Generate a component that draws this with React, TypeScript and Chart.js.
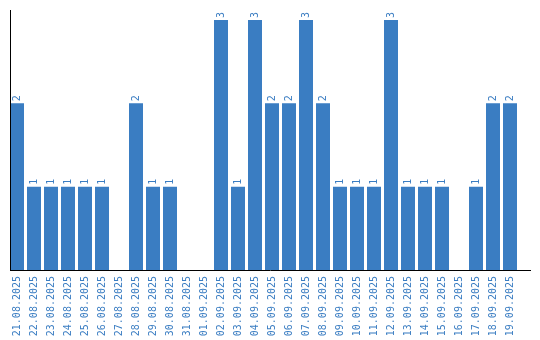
import React, { useEffect, useRef } from "react";
import { Chart, registerables } from "chart.js";

Chart.register(...registerables);

const dates = [
  "21.08.2025", "22.08.2025", "23.08.2025", "24.08.2025", "25.08.2025", "26.08.2025",
  "27.08.2025", "28.08.2025", "29.08.2025", "30.08.2025", "31.08.2025", "01.09.2025",
  "02.09.2025", "03.09.2025", "04.09.2025", "05.09.2025", "06.09.2025", "07.09.2025",
  "08.09.2025", "09.09.2025", "10.09.2025", "11.09.2025", "12.09.2025", "13.09.2025",
  "14.09.2025", "15.09.2025", "16.09.2025", "17.09.2025", "18.09.2025", "19.09.2025",
];
const counts = [2, 1, 1, 1, 1, 1, 0, 2, 1, 1, 0, 0, 3, 1, 3, 2, 2, 3, 2, 1, 1, 1, 3, 1, 1, 1, 0, 1, 2, 2];

const BLUE = "#3a7dc2";
const FONT = "'DejaVu Sans Mono', monospace";

const valueLabels = {
  id: "valueLabels",
  afterDatasetsDraw(chart: any) {
    const ctx = chart.ctx;
    const meta = chart.getDatasetMeta(0);
    ctx.save();
    ctx.fillStyle = BLUE;
    ctx.font = `10px ${FONT}`;
    ctx.textAlign = "left";
    ctx.textBaseline = "middle";
    meta.data.forEach((bar: any, i: number) => {
      const v = counts[i];
      if (!v) return;
      ctx.save();
      ctx.translate(bar.x, bar.y - 2);
      ctx.rotate(-Math.PI / 2);
      ctx.fillText(String(v), 0, 0);
      ctx.restore();
    });
    ctx.restore();
  },
};

const axisLines = {
  id: "axisLines",
  afterDraw(chart: any) {
    const ctx = chart.ctx;
    const { top, bottom } = chart.chartArea;
    const x0 = 10;
    ctx.save();
    ctx.strokeStyle = "#000";
    ctx.lineWidth = 1;
    ctx.beginPath();
    ctx.moveTo(x0 + 0.5, top);
    ctx.lineTo(x0 + 0.5, bottom + 1);
    ctx.moveTo(x0, bottom + 0.5);
    ctx.lineTo(531, bottom + 0.5);
    ctx.stroke();
    ctx.restore();
  },
};

export default function App() {
  const ref = useRef<HTMLCanvasElement>(null);
  useEffect(() => {
    if (!ref.current) return;
    const chart = new Chart(ref.current, {
      type: "bar",
      data: {
        labels: dates,
        datasets: [
          {
            data: counts,
            backgroundColor: BLUE,
            barPercentage: 14 / 17,
            categoryPercentage: 1,
          },
        ],
      },
      options: {
        animation: false,
        responsive: false,
        devicePixelRatio: 1,
        layout: { padding: { left: 8.5, top: 10, right: 21.5, bottom: 0 } },
        plugins: { legend: { display: false }, tooltip: { enabled: false } },
        scales: {
          x: {
            grid: { display: false, drawTicks: false },
            border: { display: false },
            afterFit: (s: any) => {
              s.height = 70;
            },
            ticks: {
              color: BLUE,
              font: { family: FONT, size: 10 },
              minRotation: 90,
              maxRotation: 90,
              autoSkip: false,
              padding: 6,
            },
          },
          y: {
            min: 0,
            max: 3.12,
            grid: { display: false, drawTicks: false },
            border: { display: false },
            ticks: { display: false },
            afterFit: (s: any) => {
              s.width = 0;
            },
          },
        },
      },
      plugins: [valueLabels, axisLines],
    });
    return () => chart.destroy();
  }, []);
  return (
    <div style={{ position: "fixed", left: 0, top: 0, width: 540, height: 340, background: "#fff" }}>
      <canvas ref={ref} width={540} height={340} />
    </div>
  );
}
